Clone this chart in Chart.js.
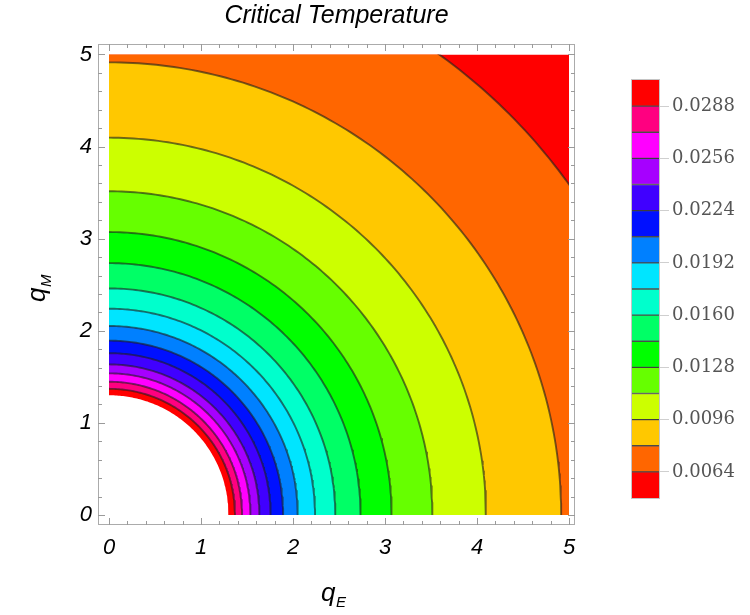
<!DOCTYPE html>
<html><head><meta charset="utf-8">
<script src="https://cdn.jsdelivr.net/npm/chart.js@4.4.1/dist/chart.umd.min.js"></script>
<style>
html,body{margin:0;padding:0;background:#fff;}
#wrap{position:relative;width:750px;height:615px;overflow:hidden;}
#main{position:absolute;left:0;top:0;}
#bar{position:absolute;left:600px;top:0;}
</style></head><body>
<div id="wrap"><canvas id="main" width="750" height="615"></canvas><canvas id="bar" width="150" height="615"></canvas></div>
<script>
// ---- data ----
const levels = [0.0048, 0.0064, 0.0080, 0.0096, 0.0112, 0.0128, 0.0144, 0.0160, 0.0176, 0.0192, 0.0208, 0.0224, 0.0240, 0.0256, 0.0272, 0.0288, 0.0304];
// radius (in q-plane) of the contour at levels[1..16]
const contourRadii = [6.155, 4.915, 4.097, 3.515, 3.072, 2.735, 2.46, 2.24, 2.052, 1.893, 1.757, 1.635, 1.538, 1.447, 1.37, 1.30];
const bandColors = ['#FF0000','#FF6600','#FFC800','#CCFF00','#66FF00','#00FF00','#00FF66','#00FFCC','#00E5FF','#0080FF','#0010FF','#4000FF','#A600FF','#FF00FF','#FF0080','#FF0000'];
const colorTicks = [0.0064, 0.0096, 0.0128, 0.0160, 0.0192, 0.0224, 0.0256, 0.0288];
const xTicks = [0, 1, 2, 3, 4, 5];
const yTicks = [0, 1, 2, 3, 4, 5];
const xDomain = [0, 5];
const yDomain = [0, 5];

// quarter-circle path for a contour of radius r (x ascending)
function quarterArc(r) {
  const pts = [], N = 120;
  for (let i = 0; i <= N; i++) {
    const t = Math.PI / 2 * (1 - i / N);
    pts.push({x: r * Math.cos(t), y: r * Math.sin(t)});
  }
  return pts;
}

// datasets: innermost first (drawn last, on top)
const contourSets = [];
for (let k = contourRadii.length - 1; k >= 0; k--) {
  const isInner = (k === contourRadii.length - 1);
  contourSets.push({
    data: quarterArc(contourRadii[k]),
    showLine: true,
    fill: 'origin',
    backgroundColor: isInner ? '#FFFFFF' : bandColors[k + 1],
    borderColor: 'rgba(30,30,30,0.62)',
    borderWidth: isInner ? 0 : 1.9,
    pointRadius: 0,
    tension: 0
  });
}

const tickFont = {family: 'Liberation Sans', style: 'italic', size: 22};

const framePlugin = {
  id: 'frame',
  beforeDatasetsDraw(chart) {
    const {ctx, scales: {x, y}} = chart;
    const l = x.getPixelForValue(xDomain[0]), r = x.getPixelForValue(xDomain[1]);
    const t = y.getPixelForValue(yDomain[1]), b = y.getPixelForValue(yDomain[0]);
    ctx.save();
    ctx.beginPath();
    ctx.rect(l, t, r - l, b - t);
    ctx.clip();
    ctx.fillStyle = bandColors[0];
    ctx.fillRect(l, t, r - l, b - t);
  },
  afterDatasetsDraw(chart) {
    const {ctx, chartArea: a, scales: {x, y}} = chart;
    ctx.restore();
    ctx.save();
    // frame
    ctx.strokeStyle = '#ababab';
    ctx.lineWidth = 1;
    ctx.strokeRect(a.left + 0.5, a.top + 0.5, a.right - a.left - 1, a.bottom - a.top - 1);
    // ticks on all four sides, pointing inward
    ctx.strokeStyle = '#9a9a9a';
    ctx.beginPath();
    for (let i = 0; i <= 25; i++) {
      const v = i * 0.2;
      const major = (i % 5 === 0);
      const len = major ? 7 : 4;
      const px = Math.round(x.getPixelForValue(v)) + 0.5;
      ctx.moveTo(px, a.bottom); ctx.lineTo(px, a.bottom - len);
      ctx.moveTo(px, a.top); ctx.lineTo(px, a.top + len);
      const py = Math.round(y.getPixelForValue(v)) + 0.5;
      ctx.moveTo(a.left, py); ctx.lineTo(a.left + len, py);
      ctx.moveTo(a.right, py); ctx.lineTo(a.right - len, py);
    }
    ctx.stroke();
    // axis titles with subscripts
    ctx.fillStyle = '#000';
    ctx.textBaseline = 'alphabetic';
    ctx.textAlign = 'left';
    ctx.font = 'italic 26px "Liberation Sans"';
    ctx.fillText('q', 321, 600.5);
    ctx.font = 'italic 15px "Liberation Sans"';
    ctx.fillText('E', 336, 606.5);
    ctx.translate(45, 302);
    ctx.rotate(-Math.PI / 2);
    ctx.font = 'italic 26px "Liberation Sans"';
    ctx.fillText('q', 0, 0);
    ctx.font = 'italic 15px "Liberation Sans"';
    ctx.fillText('M', 15, 6);
    ctx.restore();
  }
};

new Chart(document.getElementById('main'), {
  type: 'scatter',
  data: {datasets: contourSets},
  options: {
    responsive: false, animation: false, devicePixelRatio: 1,
    layout: {padding: {left: 0, right: 175, top: 0, bottom: 0}},
    plugins: {
      legend: {display: false}, tooltip: {enabled: false},
      title: {display: true, text: 'Critical Temperature', fullSize: false, color: '#000',
        font: {family: 'Liberation Sans', style: 'italic', size: 25, weight: 'normal', lineHeight: 1.2},
        padding: {top: 1, bottom: 13}}
    },
    scales: {
      x: {type: 'linear', min: -0.1196, max: 5.0652,
        afterBuildTicks: s => { s.ticks = xTicks.map(v => ({value: v})); },
        grid: {display: false, drawTicks: false}, border: {display: false},
        ticks: {font: tickFont, color: '#000', padding: 10, maxRotation: 0, autoSkip: false},
        afterFit: s => { s.height = 90; }},
      y: {type: 'linear', min: -0.1086, max: 5.114,
        afterBuildTicks: s => { s.ticks = yTicks.map(v => ({value: v})); },
        grid: {display: false, drawTicks: false}, border: {display: false},
        ticks: {font: tickFont, color: '#000', padding: 6, autoSkip: false},
        afterFit: s => { s.width = 98; }}
    }
  },
  plugins: [framePlugin]
});

// ---- colour bar ----
const barOutline = {
  id: 'barOutline',
  afterDraw(chart) {
    const {ctx, chartArea: a} = chart;
    ctx.save();
    ctx.strokeStyle = '#c4c4c4';
    ctx.lineWidth = 1;
    ctx.strokeRect(a.left - 0.5, a.top - 0.5, a.right - a.left + 1, a.bottom - a.top + 1);
    ctx.restore();
  }
};
new Chart(document.getElementById('bar'), {
  type: 'bar',
  data: {
    labels: [''],
    datasets: bandColors.map((c, i) => ({
      data: [[levels[i], levels[i + 1]]],
      backgroundColor: c,
      borderColor: 'rgba(30,30,30,0.75)',
      borderWidth: {top: i < bandColors.length - 1 ? 1 : 0, bottom: i > 0 ? 1 : 0, left: 0, right: 0},
      borderSkipped: false,
      grouped: false,
      barPercentage: 1, categoryPercentage: 1
    }))
  },
  options: {
    responsive: false, animation: false, devicePixelRatio: 1,
    layout: {padding: {left: 32, top: 80, bottom: 117, right: 0}},
    plugins: {legend: {display: false}, tooltip: {enabled: false}, title: {display: false}},
    scales: {
      x: {display: false},
      y: {position: 'right', min: levels[0], max: levels[levels.length - 1],
        afterBuildTicks: s => { s.ticks = colorTicks.map(v => ({value: v})); },
        grid: {drawOnChartArea: false, drawTicks: true, tickLength: 10, color: '#cfcfcf'},
        border: {display: false},
        ticks: {padding: 3, color: '#555', font: {family: 'DejaVu Serif', size: 18}, callback: v => v.toFixed(4)},
        afterFit: s => { s.width = 91; }}
    }
  },
  plugins: [barOutline]
});
</script>
</body></html>
